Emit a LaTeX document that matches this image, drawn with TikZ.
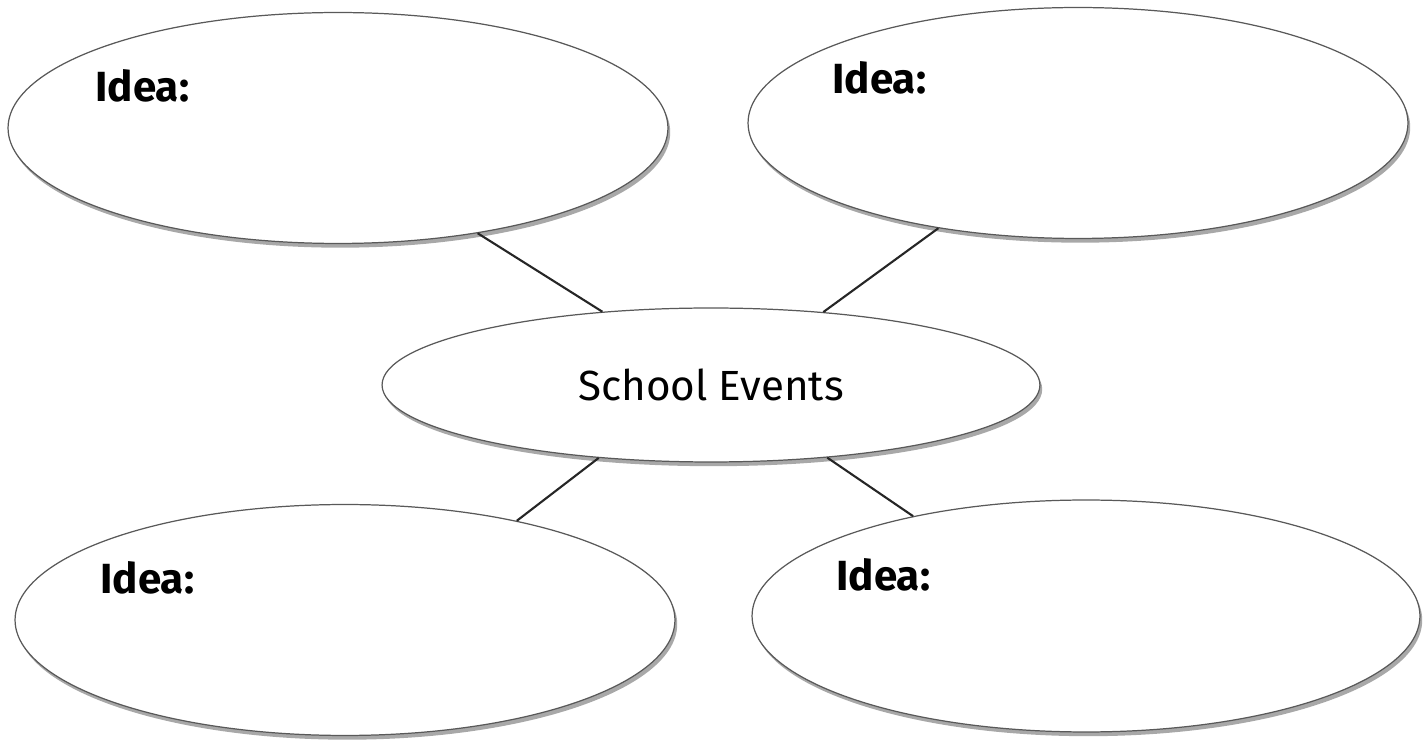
\documentclass[tikz,border=0pt]{standalone}
\usepackage{fontspec}
\setmainfont{Fira Sans}
\usetikzlibrary{shapes.geometric}
\usetikzlibrary{shadows}
\usetikzlibrary{math}

\tikzset{
  bubble/.style={ellipse, draw=gray!70!black, line width=0.7pt, fill=white,
    inner sep=0pt,
    drop shadow={shadow xshift=1.3pt, shadow yshift=-2.4pt, fill=gray!75, opacity=0.9}},
  ideatext/.style={anchor=base west, inner sep=0pt,
    font=\fontsize{24}{28}\selectfont\bfseries},
  hubtext/.style={font=\fontsize{24}{28}\selectfont},
  link/.style={line width=1.2pt, black!85}
}

\begin{document}
\begin{tikzpicture}[x=0.02cm, y=-0.02cm]

  \tikzmath{
    \wide = 13.2; % width of the idea bubbles (cm)
    \high = 4.62; % height of the idea bubbles (cm)
  }

  \useasboundingbox (0,0) rectangle (1424,742);

  % central bubble
  \node[bubble, hubtext, minimum width=13.16cm, minimum height=3.08cm]
    (hub) at (711,385) {School Events};

  % idea bubbles
  \node[bubble, minimum width=\wide cm, minimum height=\high cm] (tl) at (338,128) {};
  \node[bubble, minimum width=\wide cm, minimum height=\high cm] (tr) at (1078,123) {};
  \node[bubble, minimum width=\wide cm, minimum height=\high cm] (bl) at (345,620) {};
  \node[bubble, minimum width=13.36cm, minimum height=4.64cm] (br) at (1086,616) {};

  % labels
  \node[ideatext] (tlidea) at (95,102) {Idea:};
  \node[ideatext] (tridea) at (832,94) {Idea:};
  \node[ideatext] (blidea) at (100,594) {Idea:};
  \node[ideatext] (bridea) at (836,591) {Idea:};

  % connectors
  \draw[link] (tl.-37)    -- (hub.146.7);
  \draw[link] (tr.217.7)  -- (hub.33.8);
  \draw[link] (bl.30.9)   -- (hub.213.3);
  \draw[link] (br.150)    -- (hub.-32.6);

\end{tikzpicture}
\end{document}
